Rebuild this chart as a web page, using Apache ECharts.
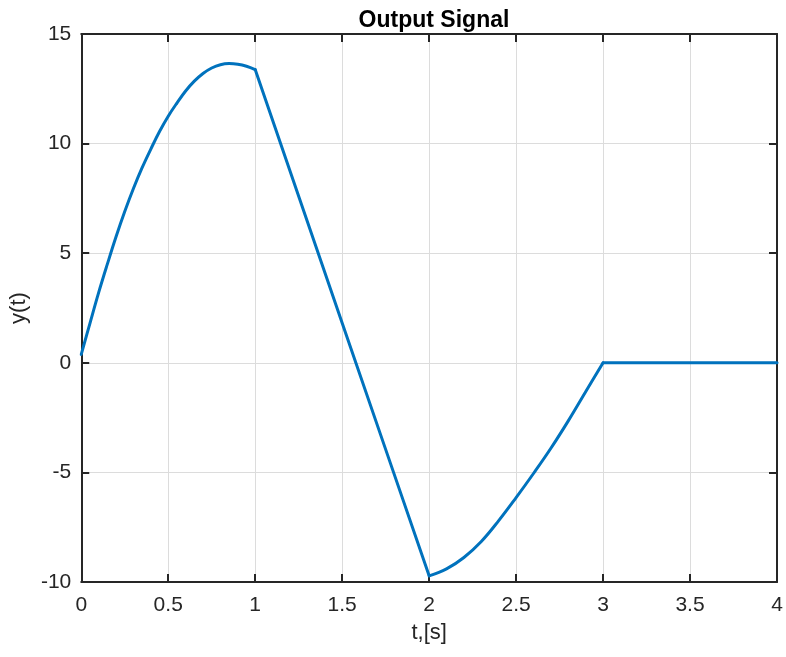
<!DOCTYPE html>
<html>
<head>
<meta charset="utf-8">
<script src="https://cdn.jsdelivr.net/npm/echarts@6/dist/echarts.min.js"></script>
<style>
  html, body { margin: 0; padding: 0; background: #fff; }
  #output-signal { width: 786px; height: 657px; }
</style>
</head>
<body>
<div id="output-signal"></div>
<script>
// values
const t_values = [
  0, 0.05, 0.1, 0.15, 0.2, 0.25, 0.3, 0.35, 0.4, 0.45, 0.5,
  0.55, 0.6, 0.65, 0.7, 0.75, 0.8, 0.85, 0.9, 0.95, 1.0,
  1.25, 1.5, 1.75, 2.0,
  2.1, 2.2, 2.3, 2.4, 2.5, 2.6, 2.7, 2.8, 2.9, 3.0,
  3.5, 4.0
]
const y_values = [
  0.38, 1.8, 3.2, 4.5, 5.75, 6.9, 7.95, 8.9, 9.75, 10.55, 11.25,
  11.85, 12.4, 12.85, 13.2, 13.45, 13.6, 13.65, 13.62, 13.53, 13.38,
  7.6, 1.82, -3.95, -9.72,
  -9.4, -8.88, -8.15, -7.2, -6.15, -5.05, -3.9, -2.65, -1.32, 0,
  0, 0
]
// piecewise parts of the signal: [from t, to t, curved?]
const segments = [[0, 1, true], [1, 2, false], [2, 3, true], [3, 4, false]]
const x_ticks = { min: 0, max: 4, interval: 0.5 }
const y_ticks = { min: -10, max: 15, interval: 5 }

const font_family = 'Liberation Sans, Arial, sans-serif'
const axis_color = '#262626'
const grid_color = '#dcdcdc'
const line_color = '#0072BD'

const box_axis = {
  axisLine: { show: true, onZero: false, lineStyle: { color: axis_color, width: 2 } },
  axisTick: { show: true, inside: true, length: 8, lineStyle: { color: axis_color, width: 2 } },
  axisLabel: { show: false },
  splitLine: { show: false }
}

const output_signal_chart = echarts.init(document.querySelector('#output-signal'))
const output_signal_chart_option = {
  animation: false,
  title: {
    text: 'Output Signal',
    left: 429,
    top: 4,
    textAlign: 'center',
    textStyle: { fontFamily: font_family, fontWeight: 'bold', fontSize: 23, color: '#000' }
  },
  grid: { left: 81, right: 9, top: 34, bottom: 75 },
  xAxis: [
    {
      type: 'value',
      ...x_ticks,
      name: 't,[s]',
      nameLocation: 'middle',
      nameGap: 40,
      nameTextStyle: { fontFamily: font_family, fontSize: 22, color: axis_color },
      axisLine: { show: true, onZero: false, lineStyle: { color: axis_color, width: 2 } },
      axisTick: { show: true, inside: true, length: 8, lineStyle: { color: axis_color, width: 2 } },
      axisLabel: { fontFamily: font_family, fontSize: 21, color: axis_color, margin: 13 },
      splitLine: { show: true, lineStyle: { color: grid_color, width: 1 } }
    },
    { type: 'value', position: 'top', ...x_ticks, ...box_axis }
  ],
  yAxis: [
    {
      type: 'value',
      ...y_ticks,
      name: 'y(t)',
      nameLocation: 'middle',
      nameGap: 42,
      nameTextStyle: { fontFamily: font_family, fontSize: 22, color: axis_color },
      axisLine: { show: true, onZero: false, lineStyle: { color: axis_color, width: 2 } },
      axisTick: { show: true, inside: true, length: 8, lineStyle: { color: axis_color, width: 2 } },
      axisLabel: { fontFamily: font_family, fontSize: 21, color: axis_color, margin: 10 },
      splitLine: { show: true, lineStyle: { color: grid_color, width: 1 } }
    },
    { type: 'value', position: 'right', ...y_ticks, ...box_axis }
  ],
  series: segments.map(([from, to, curved]) => ({
    name: 'y(t)',
    type: 'line',
    data: t_values
      .map((t, i) => [t, y_values[i]])
      .filter(([t]) => t >= from && t <= to),
    smooth: curved ? 0.4 : false,
    showSymbol: false,
    lineStyle: { color: line_color, width: 3, cap: 'round', join: 'round' },
    itemStyle: { color: line_color }
  }))
}
output_signal_chart.setOption(output_signal_chart_option)
</script>
</body>
</html>
